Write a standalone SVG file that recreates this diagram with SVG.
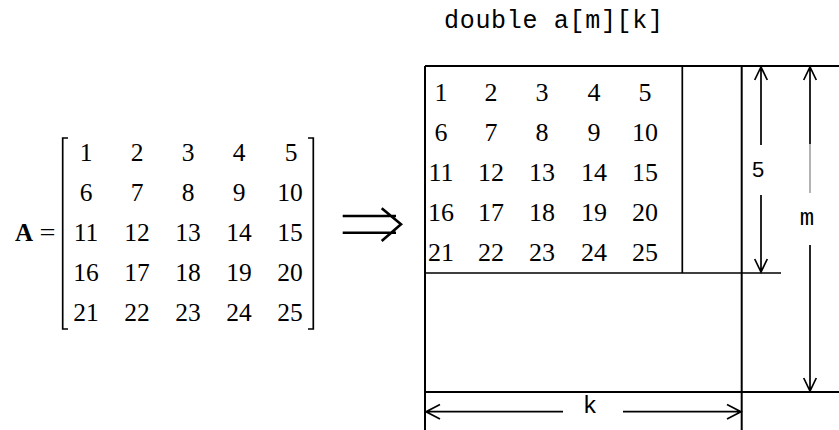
<svg xmlns="http://www.w3.org/2000/svg" width="839" height="430" viewBox="0 0 839 430">
<style>
.num{font-family:"Liberation Serif","Times New Roman",serif;font-size:25.5px;fill:#000;text-anchor:middle}
.num2{font-family:"Liberation Serif","Times New Roman",serif;font-size:26px;fill:#000;text-anchor:middle}
.mono{font-family:"Liberation Mono","Courier New",monospace;fill:#000}
.ln{stroke:#000;stroke-width:2;fill:none}
.ln2{stroke:#000;stroke-width:1.7;fill:none}
.thin{stroke:#000;stroke-width:0.6;fill:none}
</style>
<rect width="839" height="430" fill="#fff"/>
<g id="title">
<text class="mono" x="444" y="28" font-size="25" textLength="219" lengthAdjust="spacing">double a[m][k]</text>
</g>
<g id="matrixA">
<text x="15" y="241" font-family="Liberation Serif, Times New Roman, serif" font-size="25" font-weight="bold">A</text>
<text x="39.5" y="241" font-family="Liberation Serif, Times New Roman, serif" font-size="25" textLength="16" lengthAdjust="spacingAndGlyphs">=</text>
<path class="ln2" d="M68,138 H62.7 V329 H68 M308,138 H313.3 V329 H308" stroke-width="1.4"/>
<g class="num">
<text x="86" y="161">1</text><text x="137" y="161">2</text><text x="188" y="161">3</text><text x="239" y="161">4</text><text x="291" y="161">5</text>
<text x="86" y="201">6</text><text x="137" y="201">7</text><text x="188" y="201">8</text><text x="239" y="201">9</text><text x="290" y="201">10</text>
<text x="86" y="241">11</text><text x="137" y="241">12</text><text x="188" y="241">13</text><text x="239" y="241">14</text><text x="290" y="241">15</text>
<text x="86" y="281">16</text><text x="137" y="281">17</text><text x="188" y="281">18</text><text x="239" y="281">19</text><text x="290" y="281">20</text>
<text x="86" y="321">21</text><text x="137" y="321">22</text><text x="188" y="321">23</text><text x="239" y="321">24</text><text x="290" y="321">25</text>
</g>
</g>
<g id="implies">
<path d="M342.7,216 H396 M342.7,232.7 H396 M381.7,208.3 L401,224.3 L381.7,241" stroke="#000" stroke-width="2.6" fill="none"/>
</g>
<g id="array">
<path class="ln" d="M425,66 H839 M425,66 V430 M741.7,66 V430 M425,392 H839"/>
<path class="ln2" d="M682.3,66 V273 M425,273 H781"/>
<g class="num2">
<text x="441" y="101">1</text><text x="491" y="101">2</text><text x="542" y="101">3</text><text x="594" y="101">4</text><text x="645" y="101">5</text>
<text x="441" y="141">6</text><text x="491" y="141">7</text><text x="542" y="141">8</text><text x="594" y="141">9</text><text x="645" y="141">10</text>
<text x="441" y="181">11</text><text x="491" y="181">12</text><text x="542" y="181">13</text><text x="594" y="181">14</text><text x="645" y="181">15</text>
<text x="441" y="221">16</text><text x="491" y="221">17</text><text x="542" y="221">18</text><text x="594" y="221">19</text><text x="645" y="221">20</text>
<text x="441" y="261">21</text><text x="491" y="261">22</text><text x="542" y="261">23</text><text x="594" y="261">24</text><text x="645" y="261">25</text>
</g>
</g>
<g id="connectors">
<path class="ln2" d="M761,67 V145 M761,195 V272 M754.7,80 L761,67 L767.3,80 M754.7,259 L761,272 L767.3,259"/>
<path class="ln2" d="M810,67 V144 M810,245 V391 M803.7,80 L810,67 L816.3,80 M803.7,378 L810,391 L816.3,378"/>
<path class="thin" d="M810,144 V193"/>
<path class="ln2" d="M426,411.7 H563 M623,411.7 H741 M440,404.5 L426,411.7 L440,419 M727,404.5 L741,411.7 L727,419"/>
</g>
<g id="labels">
<text class="mono" x="758" y="177" font-size="22" text-anchor="middle">5</text>
<text class="mono" x="807" y="225" font-size="24" text-anchor="middle">m</text>
<text class="mono" x="590" y="413" font-size="24" text-anchor="middle">k</text>
</g>
</svg>
